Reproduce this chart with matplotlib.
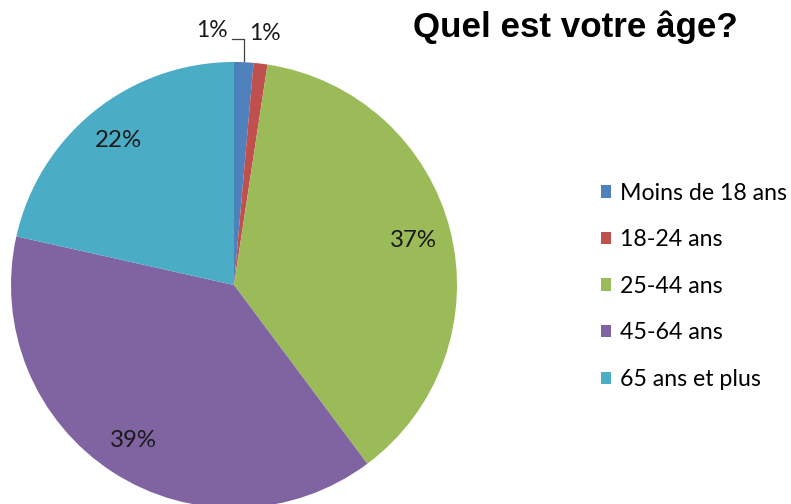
import matplotlib
matplotlib.use("Agg")
import matplotlib.pyplot as plt
import numpy as np

categories = ["Moins de 18 ans", "18-24 ans", "25-44 ans", "45-64 ans", "65 ans et plus"]
values = [1.4, 1.0, 37.4, 38.7, 21.5]
colors = ["#4F81BD", "#C0504D", "#9BBB59", "#8064A2", "#4BACC6"]
title = "Quel est votre âge?"

W, H = 791, 504
fig = plt.figure(figsize=(W / 100, H / 100), dpi=100)
cx, cy, r = 234, 285, 223
ax = fig.add_axes([(cx - r) / W, (H - cy - r) / H, 2 * r / W, 2 * r / H])

wedges, texts, autotexts = ax.pie(
    values, colors=colors, startangle=90, counterclock=False, radius=1,
    autopct="%.0f%%", pctdistance=0.83,
    textprops=dict(family="Lato", fontsize=17.3, color="#1a1a1a"),
    wedgeprops=dict(linewidth=0),
)
ax.set_xlim(-1, 1)
ax.set_ylim(-1, 1)
ax.set_aspect("equal")
ax.axis("off")

# Move the two tiny-slice labels outside the pie
for i, (dx, dy) in [(0, (-0.10, 1.143)), (1, (0.139, 1.13))]:
    autotexts[i].set_position((dx, dy))
    autotexts[i].set_fontsize(16.5)

# leader line for the first small slice
th = np.deg2rad((wedges[0].theta1 + wedges[0].theta2) / 2)
ex, ey = np.cos(th) * 1.0, np.sin(th) * 1.0
ax.plot([-0.01, ex, ex], [1.103, 1.103, ey + 0.005], color="#404040", lw=0.9, clip_on=False)

fig.legend(wedges, categories, loc="upper left", bbox_to_anchor=(589 / W, 1 - 171 / H),
           frameon=False, prop=dict(family="Lato", size=16.7), labelspacing=1.105,
           handlelength=0.45, handleheight=0.45, handletextpad=0.4, borderpad=0)

fig.text(575.5 / W, 1 - 37 / H, title, ha="center", va="baseline",
         family="Liberation Sans", fontweight="bold", fontsize=25.2, color="black")

fig.savefig("out.png", dpi=100)
